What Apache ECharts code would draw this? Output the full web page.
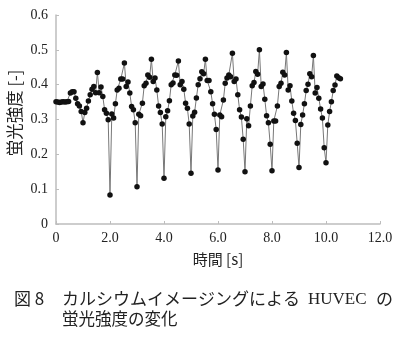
<!DOCTYPE html>
<html><head><meta charset="utf-8">
<script src="https://cdn.jsdelivr.net/npm/echarts@6/dist/echarts.min.js"></script>
<style>html,body{margin:0;padding:0;background:#fff}#c{width:403px;height:358px}</style>
</head><body><div id="c"></div>
<script>
// fluorescence intensity sampled at 15 frames per second
const frameRate = 15;
const intensity = [
0.351,0.350,0.349,0.350,0.351,0.350,0.351,0.352,
0.376,0.380,0.380,0.361,0.345,0.339,0.323,0.291,0.320,0.332,0.353,0.371,0.387,0.395,0.377,0.435,0.377,0.393,0.366,0.328,0.318,0.299,0.083,
0.316,0.304,0.345,0.385,0.390,0.416,0.416,0.462,0.395,0.408,0.376,0.337,0.328,0.291,0.107,
0.315,0.311,0.347,0.397,0.404,0.428,0.421,0.473,0.409,0.419,0.385,0.339,0.320,0.287,0.131,
0.308,0.325,0.354,0.400,0.405,0.428,0.427,0.468,0.400,0.409,0.387,0.347,0.332,0.287,0.146,
0.310,0.321,0.362,0.400,0.417,0.437,0.431,0.473,0.412,0.412,0.380,0.345,0.315,0.271,0.155,
0.313,0.308,0.356,0.404,0.419,0.428,0.423,0.490,0.409,0.416,0.371,0.328,0.307,0.243,0.150,
0.302,0.282,0.339,0.397,0.406,0.438,0.430,0.500,0.395,0.402,0.358,0.311,0.291,0.229,0.153,
0.296,0.296,0.339,0.395,0.404,0.436,0.428,0.492,0.385,0.397,0.353,0.318,0.297,0.232,0.162,
0.286,0.313,0.345,0.383,0.401,0.431,0.423,0.484,0.376,0.392,0.361,0.330,0.304,0.219,0.176,
0.284,0.323,0.351,0.383,0.399,0.425,0.420,0.417
];
const xTickLabels = {0:'0',2:'2.0',4:'4.0',6:'6.0',8:'8.0',10:'10.0',12:'12.0'};
const yTickLabels = {0:'0',0.1:'0.1',0.2:'0.2',0.3:'0.3',0.4:'0.4',0.5:'0.5',0.6:'0.6'};
const xName = '時間 [s]';
const yName = '蛍光強度 [-]';
const captionLabel = '図 8';
const captionLine1a = 'カルシウムイメージングによる';
const captionLine1b = 'HUVEC';
const captionLine1c = 'の';
const captionLine2 = '蛍光強度の変化';

const points = intensity.map((v, i) => [i / frameRate, v]);
const serif = 'Liberation Serif';
const cjk = 'Noto Sans CJK JP';

const chart = echarts.init(document.getElementById('c'));
chart.setOption({
  animation: false,
  grid: {left: 56, top: 15, width: 324, height: 209},
  xAxis: {
    type: 'value', min: 0, max: 12, interval: 2,
    axisLine: {show: true, lineStyle: {color: '#bdbdbd', width: 1.5}},
    axisTick: {show: true, inside: true, length: 3, lineStyle: {color: '#bdbdbd'}},
    splitLine: {show: false},
    axisLabel: {formatter: v => xTickLabels[v], color: '#222', fontFamily: serif, fontSize: 14, margin: 7},
    name: xName, nameLocation: 'middle', nameGap: 28,
    nameTextStyle: {color: '#222', fontFamily: cjk, fontSize: 15}
  },
  yAxis: {
    type: 'value', min: 0, max: 0.6, interval: 0.1,
    axisLine: {show: true, lineStyle: {color: '#bdbdbd', width: 1.5}},
    axisTick: {show: true, inside: true, length: 3, lineStyle: {color: '#bdbdbd'}},
    splitLine: {show: false},
    axisLabel: {formatter: v => yTickLabels[Math.round(v*10)/10], color: '#222', fontFamily: serif, fontSize: 14, margin: 8}
  },
  series: [{
    type: 'line', data: points,
    symbol: 'circle', symbolSize: 5.5,
    itemStyle: {color: '#111'},
    lineStyle: {color: '#777', width: 1}
  }],
  graphic: [
    {type: 'text', x: 15, y: 113, rotation: Math.PI / 2,
     style: {text: yName, font: '16.5px "' + cjk + '"', fill: '#222', align: 'center', verticalAlign: 'middle'}},
    {type: 'text', left: 14, top: 290, style: {text: captionLabel, font: '17px "' + cjk + '"', fill: '#222'}},
    {type: 'text', left: 62, top: 290, style: {text: captionLine1a, font: '17px "' + cjk + '"', fill: '#222'}},
    {type: 'text', left: 308, top: 291, style: {text: captionLine1b, font: '17px "' + serif + '"', fill: '#222'}},
    {type: 'text', left: 376, top: 290, style: {text: captionLine1c, font: '17px "' + cjk + '"', fill: '#222'}},
    {type: 'text', left: 62, top: 310, style: {text: captionLine2, font: '16.5px "' + cjk + '"', fill: '#222'}}
  ]
});
</script></body></html>
